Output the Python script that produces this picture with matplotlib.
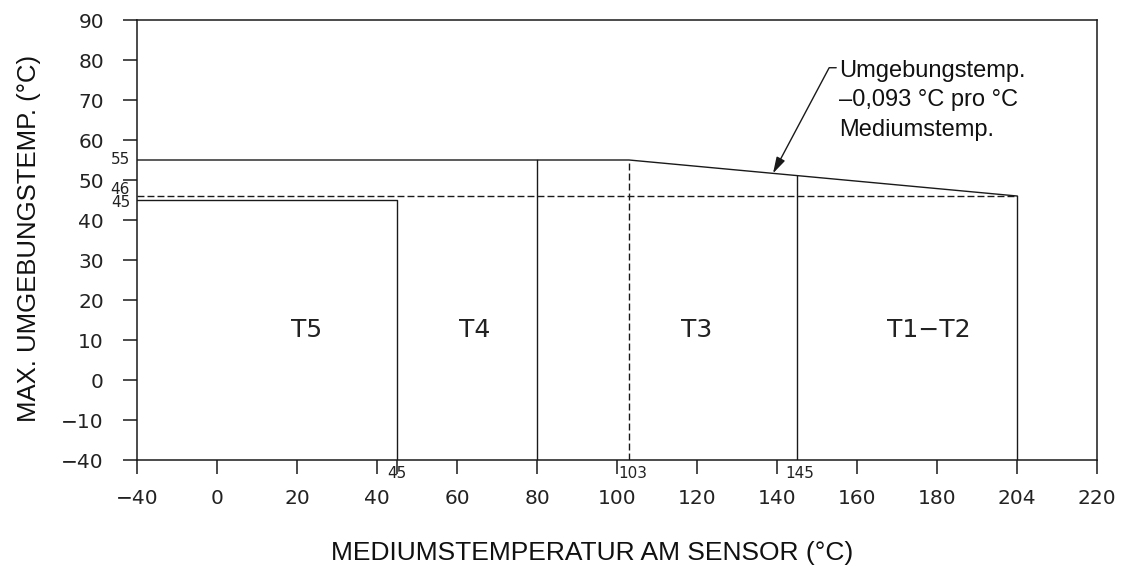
import numpy as np
import matplotlib
matplotlib.use("Agg")
import matplotlib.pyplot as plt

# ---- data ----
x_tick_vals = [-40, 0, 20, 40, 60, 80, 100, 120, 140, 160, 180, 204, 220]
x_tick_labels = ["\u221240", "0", "20", "40", "60", "80", "100", "120", "140",
                 "160", "180", "204", "220"]
y_tick_vals = [-40, -10, 0, 10, 20, 30, 40, 50, 60, 70, 80, 90]
y_tick_labels = ["\u221240", "\u221210", "0", "10", "20", "30", "40", "50",
                 "60", "70", "80", "90"]

# class limits (medium temperature °C, max ambient °C)
t5_medium, t5_ambient = 45, 45
t4_medium, t4_ambient = 80, 55
t3_knee_medium, t3_knee_ambient = 103, 55
t3_medium = 145
t12_medium, t12_ambient = 204, 46
dashed_ambient = 46
zone_names = ["T5", "T4", "T3", "T1\u2212T2"]
zone_x = [22.5, 64.5, 120, 178]
zone_y = 12.5
note_text = "Umgebungstemp.\n\u20130,093 \u00b0C pro \u00b0C\nMediumstemp."
note_target_x = 139

# axis has broken/uneven scale: equally spaced positions
x_tick_pos = [-20, 0, 20, 40, 60, 80, 100, 120, 140, 160, 180, 200, 220]
y_tick_pos = [-20, -10, 0, 10, 20, 30, 40, 50, 60, 70, 80, 90]


def xp(v):
    return np.interp(v, x_tick_vals, x_tick_pos)


def yp(v):
    return np.interp(v, y_tick_vals, y_tick_pos)


W, H = 1122, 570
fig = plt.figure(figsize=(W / 100, H / 100), dpi=100)
L, R, T, B = 137, 1097, 20, 460
ax = fig.add_axes([L / W, 1 - B / H, (R - L) / W, (B - T) / H])
ax.set_xlim(x_tick_pos[0], x_tick_pos[-1])
ax.set_ylim(y_tick_pos[0], y_tick_pos[-1])

ink = "#1a1a1a"
lw = 1.0
for s in ax.spines.values():
    s.set_color(ink)
    s.set_linewidth(1.1)

tick_font = dict(family="DejaVu Sans", size=14.5)
ax.set_xticks(x_tick_pos)
ax.set_xticklabels(x_tick_labels, **tick_font, color="#222222")
ax.set_yticks(y_tick_pos)
ax.set_yticklabels(y_tick_labels, **tick_font, color="#222222")
ax.tick_params(axis="both", which="major", direction="out", length=9.8,
               width=1.1, color=ink)
ax.tick_params(axis="x", pad=11)
ax.tick_params(axis="y", pad=14)
ax.set_xticks([xp(t5_medium)], minor=True)
ax.set_xticklabels([""], minor=True)
ax.tick_params(axis="x", which="minor", direction="out", length=9.8,
               width=1.1, color=ink)

ybot = y_tick_pos[0]
xl = x_tick_pos[0]

# T5 box
ax.plot([xl, xp(t5_medium), xp(t5_medium)],
        [yp(t5_ambient), yp(t5_ambient), ybot], color=ink, lw=lw)
# 55 line then slope to 46
ax.plot([xl, xp(t3_knee_medium), xp(t12_medium)],
        [yp(t4_ambient), yp(t3_knee_ambient), yp(t12_ambient)], color=ink, lw=lw)
# verticals
ax.plot([xp(t4_medium), xp(t4_medium)], [ybot, yp(t4_ambient)], color=ink, lw=lw)
slope_y = lambda xv: np.interp(xp(xv), [xp(t3_knee_medium), xp(t12_medium)],
                               [yp(t3_knee_ambient), yp(t12_ambient)])
ax.plot([xp(t3_medium), xp(t3_medium)], [ybot, slope_y(t3_medium)], color=ink, lw=lw)
ax.plot([xp(t12_medium), xp(t12_medium)], [ybot, yp(t12_ambient)], color=ink, lw=lw)
# dashed
dash = (0, (5, 2.2))
ax.plot([xl, xp(t12_medium)], [yp(dashed_ambient), yp(dashed_ambient)],
        color=ink, lw=lw, ls=dash)
ax.plot([xp(t3_knee_medium), xp(t3_knee_medium)], [ybot, yp(t3_knee_ambient)],
        color=ink, lw=lw, ls=dash)

# zone labels
for name, zx in zip(zone_names, zone_x):
    ax.text(xp(zx), yp(zone_y), name, ha="center", va="center",
            family="DejaVu Sans", size=18, color="#222222")

# small value labels along x axis
small = dict(family="DejaVu Sans", size=11, color="#222222")
for v, dx in [(t5_medium, 0), (t3_knee_medium, 3), (t3_medium, 2)]:
    ax.annotate(str(v), xy=(xp(v), 0), xycoords=("data", "axes fraction"),
                xytext=(dx, -10), textcoords="offset points",
                ha="center", va="center", annotation_clip=False, **small)
# small value labels along y axis
for v, dy in [(t4_ambient, 0), (dashed_ambient, 5), (t5_ambient, -1.5)]:
    ax.annotate(str(v), xy=(0, yp(v)), xycoords=("axes fraction", "data"),
                xytext=(-5, dy), textcoords="offset points",
                ha="right", va="center", annotation_clip=False, **small)

# annotation
ty = slope_y(note_target_x)
ax.annotate(note_text, xy=(xp(note_target_x), ty),
            xytext=(xp(155.5), yp(80.1)), textcoords="data",
            ha="left", va="top", family="Liberation Sans", size=17,
            linespacing=1.45, color="#111111",
            arrowprops=dict(arrowstyle="-|>,head_length=0.7,head_width=0.2",
                            mutation_scale=14, color=ink, lw=1.0,
                            connectionstyle="angle,angleA=0,angleB=62,rad=0",
                            relpos=(0, 0.9), shrinkA=0, shrinkB=0))

fig.text(592 / W, 1 - 553 / H, "MEDIUMSTEMPERATUR AM SENSOR (\u00b0C)",
         ha="center", va="center", family="Liberation Sans", size=19,
         color="#111111")
fig.text(29 / W, 1 - 238 / H, "MAX. UMGEBUNGSTEMP. (\u00b0C)", rotation=90,
         ha="center", va="center", family="Liberation Sans", size=18.5,
         color="#111111")

fig.savefig("out.png", dpi=100)
